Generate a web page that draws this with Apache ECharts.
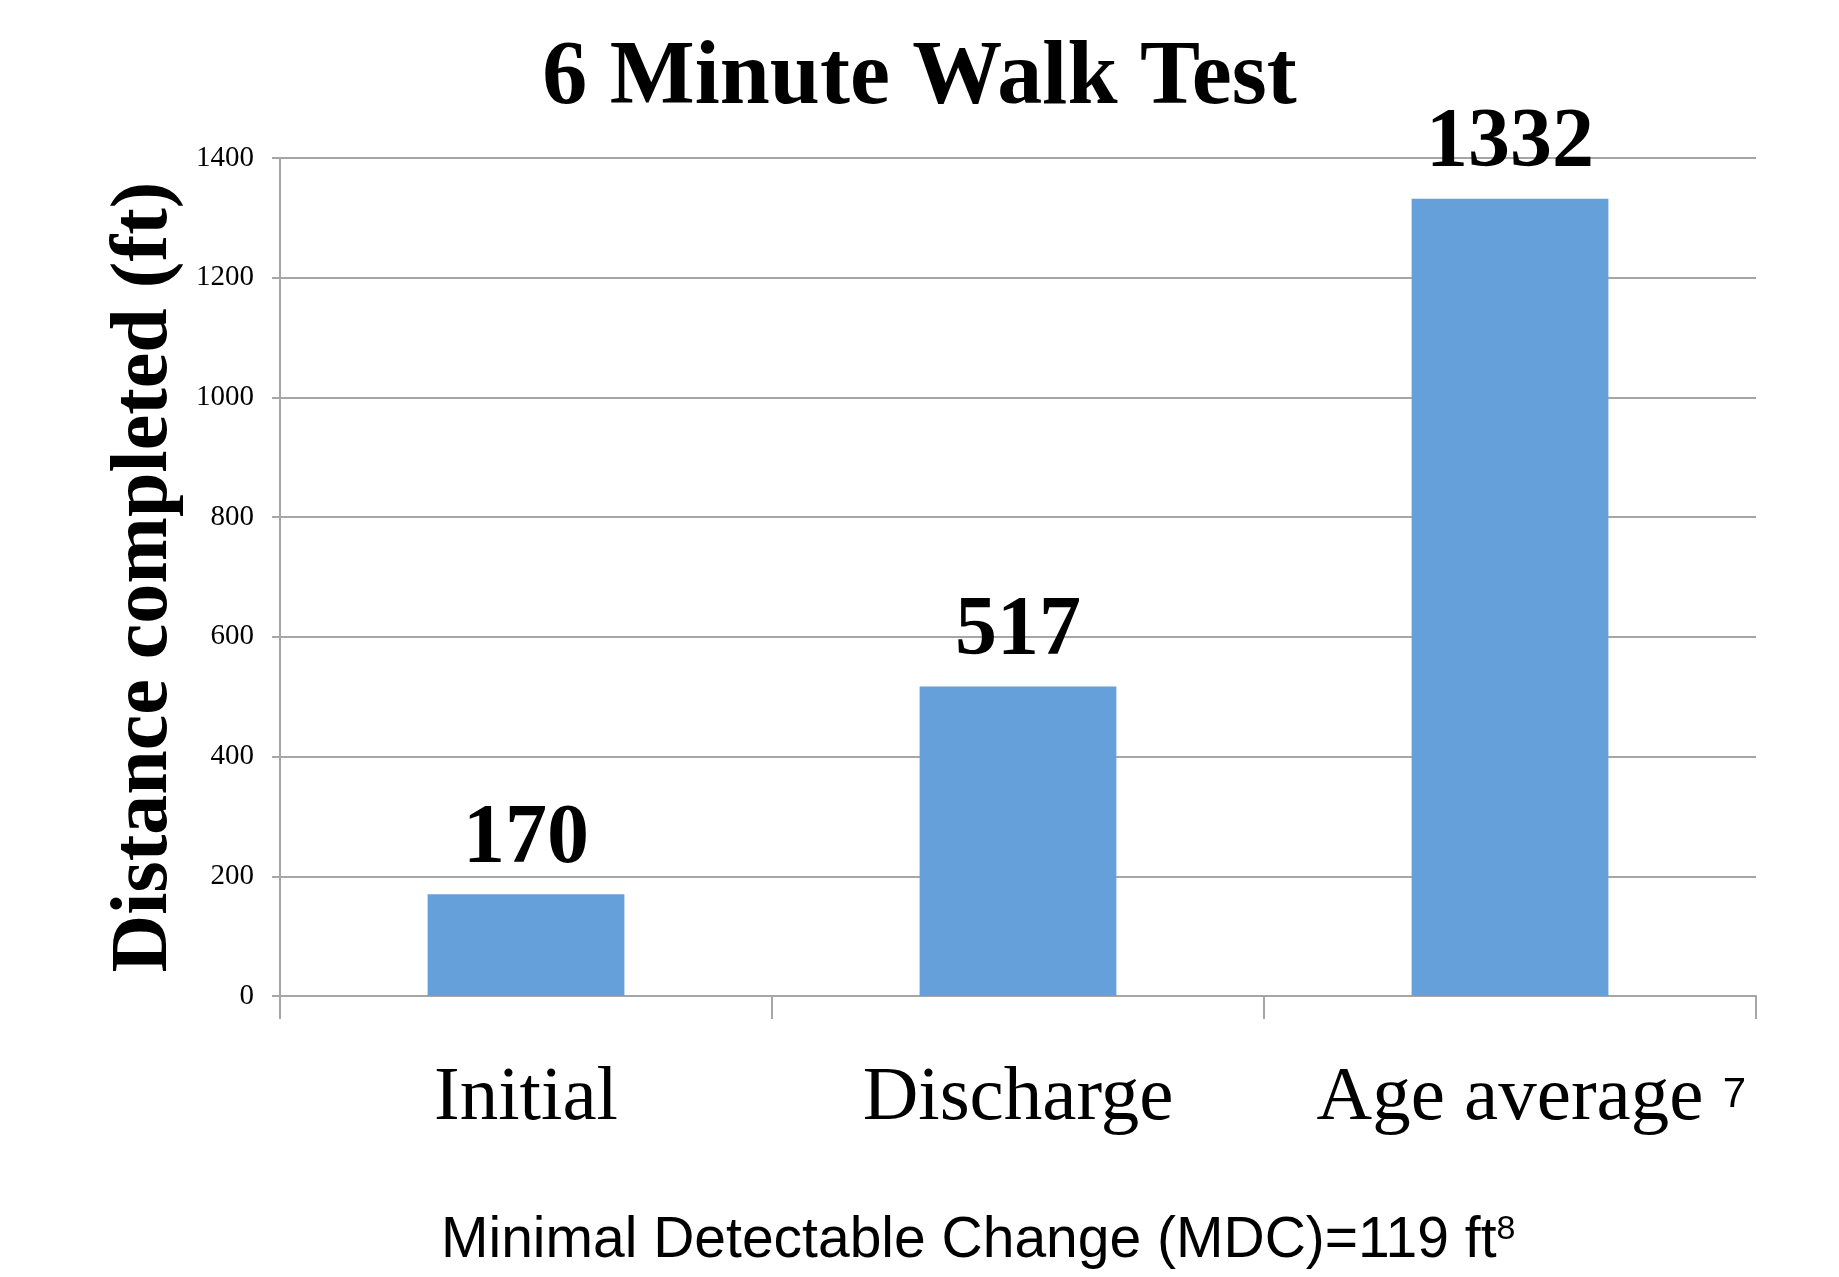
<!DOCTYPE html>
<html>
<head>
<meta charset="utf-8">
<title>6 Minute Walk Test</title>
<script src="https://cdn.jsdelivr.net/npm/echarts@6/dist/echarts.min.js"></script>
<style>
  html, body { margin: 0; padding: 0; background: #fff; }
  #main { width: 1839px; height: 1277px; }
</style>
</head>
<body>
<div id="main"></div>
<script>
// data
const categories = ['Initial', 'Discharge', 'Age average']
const footnotes = ['', '', '7']   // superscript reference after a category
const distances = [170, 517, 1332]
const yTicks = { min: 0, max: 1400, step: 200 }

const serif = '"Liberation Serif", "DejaVu Serif", serif'
const sans = '"Liberation Sans", Arial, sans-serif'
const gridGray = '#a6a6a6'

const chart = echarts.init(document.getElementById('main'))

const option = {
  backgroundColor: '#fff',
  animation: false,
  title: [
    {
      text: '6 Minute Walk Test',
      left: 'center',
      top: 30,
      textStyle: {
        fontFamily: serif,
        fontWeight: 'bold',
        fontSize: 90,
        color: '#000'
      }
    },
    {
      // footer note, with its own superscript
      text: 'Minimal Detectable Change (MDC)=119 ft{sup|8}',
      left: 436,
      top: 1208,
      textStyle: {
        fontFamily: sans,
        fontWeight: 'normal',
        fontSize: 57,
        color: '#000',
        rich: {
          sup: { fontFamily: sans, fontSize: 34, verticalAlign: 'top', color: '#000' }
        }
      }
    }
  ],
  grid: {
    left: 280,
    right: 83,
    top: 158,
    bottom: 281,
    containLabel: false
  },
  xAxis: {
    type: 'category',
    data: categories,
    axisLine: { lineStyle: { color: gridGray, width: 2 } },
    axisTick: { show: true, length: 23, lineStyle: { color: gridGray, width: 2 } },
    axisLabel: {
      interval: 0,
      margin: 64,
      fontFamily: serif,
      fontSize: 77,
      color: '#000',
      formatter: (value, idx) => {
        const note = footnotes[idx]
        if (!note) return value
        // invisible copy on the left keeps the words centred on the column
        return '{hid|' + note + '} ' + value + ' {sup|' + note + '}'
      },
      rich: {
        hid: { fontFamily: sans, fontSize: 42, color: 'rgba(0,0,0,0)', verticalAlign: 'top', padding: [14, 0, 0, 0] },
        sup: { fontFamily: sans, fontSize: 42, color: '#000', verticalAlign: 'top', padding: [14, 0, 0, 0] }
      }
    }
  },
  yAxis: {
    type: 'value',
    min: yTicks.min,
    max: yTicks.max,
    interval: yTicks.step,
    name: 'Distance completed (ft)',
    nameLocation: 'middle',
    nameGap: 81,
    nameTextStyle: {
      fontFamily: serif,
      fontWeight: 'bold',
      fontSize: 80,
      color: '#000'
    },
    axisLine: { show: true, lineStyle: { color: gridGray, width: 2 } },
    axisTick: { show: true, length: 8, lineStyle: { color: gridGray, width: 2 } },
    axisLabel: {
      margin: 26,
      fontFamily: serif,
      fontSize: 29,
      color: '#000',
      formatter: (v) => String(v)
    },
    splitLine: { lineStyle: { color: gridGray, width: 2 } }
  },
  series: [
    {
      type: 'bar',
      data: distances,
      barWidth: '40%',
      itemStyle: { color: '#65a0db' },
      label: {
        show: true,
        position: 'top',
        distance: 12,
        fontFamily: serif,
        fontWeight: 'bold',
        fontSize: 84,
        color: '#000'
      }
    }
  ]
}

chart.setOption(option)
</script>
</body>
</html>
